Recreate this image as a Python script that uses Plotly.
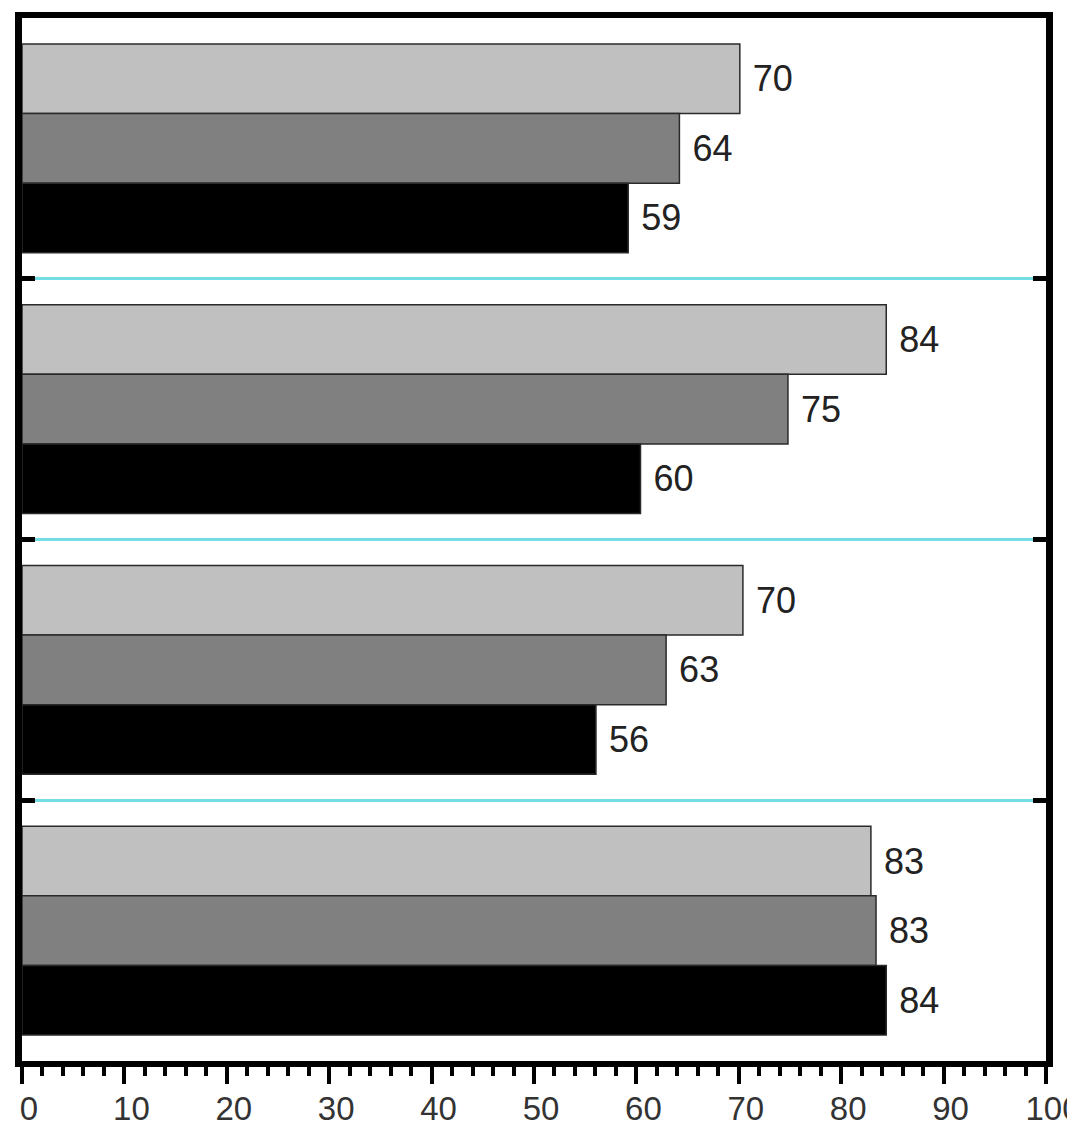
import plotly.graph_objects as go

# Groups listed top to bottom
group_pos = [0, 1, 2, 3]
series_light = [70.1, 84.4, 70.4, 82.9]
series_mid = [64.2, 74.8, 62.9, 83.4]
series_dark = [59.2, 60.4, 56.05, 84.4]

x_ticks = [0, 10, 20, 30, 40, 50, 60, 70, 80, 90, 100]
y_boundaries = [-0.5, 0.5, 1.5, 2.5, 3.5]

fills = ["#c0c0c0", "#808080", "#000000"]
series = [series_light, series_mid, series_dark]

fig = go.Figure()
for vals, col in zip(series, fills):
    fig.add_trace(go.Bar(
        x=vals, y=group_pos, orientation="h",
        marker=dict(color=col, line=dict(color="#2a2a2a", width=1.5)),
        texttemplate="\u00a0%{x:.0f}", textposition="outside",
        textfont=dict(family="Liberation Sans, Arial", size=36, color="#222222"),
        constraintext="none", cliponaxis=False, showlegend=False,
    ))

# page body has an 8px default margin, so the figure is sized to fit inside it
fig.update_layout(
    barmode="group", bargap=0.2, bargroupgap=0,
    width=1067, height=1119,
    margin=dict(l=14, r=29, t=10, b=66, autoexpand=False),
    paper_bgcolor="white", plot_bgcolor="white",
    font=dict(family="Liberation Sans, Arial", size=34, color="#333333"),
    xaxis=dict(
        range=[0, 100], tickvals=x_ticks, ticktext=[str(v) for v in x_ticks],
        ticks="outside", ticklen=17, tickwidth=4, tickcolor="black",
        minor=dict(dtick=2, ticks="outside", ticklen=9, tickwidth=4, tickcolor="black"),
        showline=True, linewidth=6, linecolor="black", mirror=True,
        showgrid=False, zeroline=False, ticklabelshift=7, ticklabelstandoff=-4,
        ticklabeloverflow="allow", automargin=False,
        tickfont=dict(size=33, color="#333333"),
    ),
    yaxis=dict(
        range=[3.5, -0.5], tickvals=y_boundaries, showticklabels=False,
        ticks="inside", ticklen=13, tickwidth=5, tickcolor="black",
        showline=True, linewidth=7, linecolor="black", mirror="ticks",
        showgrid=True, gridcolor="#72dde4", gridwidth=2.5, zeroline=False,
        automargin=False,
    ),
    yaxis2=dict(
        overlaying="y", matches="y", side="left", anchor="x",
        tickvals=y_boundaries, showticklabels=False,
        ticks="outside", ticklen=10, tickwidth=5, tickcolor="black",
        showline=False, showgrid=False, zeroline=False, automargin=False,
    ),
)

fig.write_html("out.html")
